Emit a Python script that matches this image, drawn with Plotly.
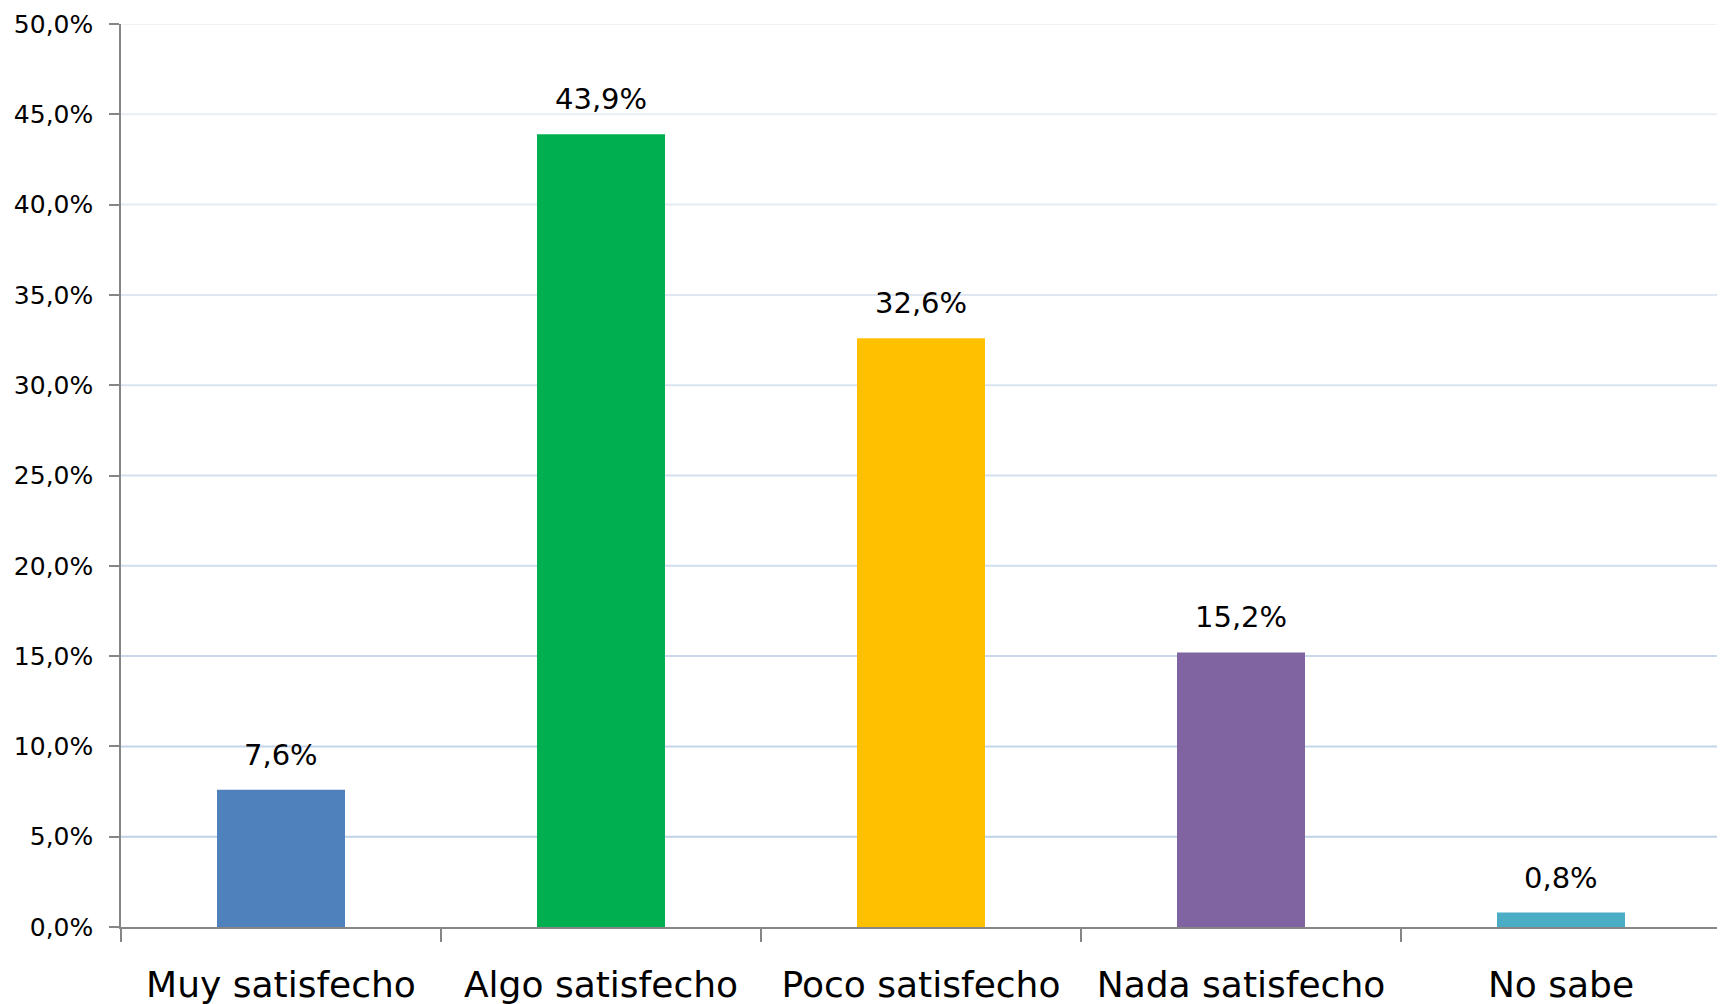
import plotly.graph_objects as go

categories = ["Muy satisfecho", "Algo satisfecho", "Poco satisfecho", "Nada satisfecho", "No sabe"]
values = [7.6, 43.9, 32.6, 15.2, 0.8]
colors = ["#4F81BD", "#00B050", "#FFC000", "#8064A2", "#4BACC6"]
y_ticks = [0, 5, 10, 15, 20, 25, 30, 35, 40, 45, 50]
y_tick_labels = [f"{v:.1f}".replace(".", ",") + "%" for v in y_ticks]

FONT = "DejaVu Sans"

fig = go.Figure()
fig.add_trace(go.Bar(
    x=categories, y=values, marker=dict(color=colors, line=dict(width=0)),
    hoverinfo="skip",
))

for c, v in zip(categories, values):
    fig.add_annotation(
        x=c, y=v, text=f"{v:.1f}".replace(".", ",") + "%",
        showarrow=False, yanchor="bottom", yshift=16,
        font=dict(family=FONT, size=29, color="#000000"),
    )

# gridlines fading from darker bluish (bottom) to pale (top)
def mix(c1, c2, t):
    return "#" + "".join(f"{round(a + (b - a) * t):02x}" for a, b in zip(c1, c2))

bottom_col = (0xb9, 0xcd, 0xe5)
top_col = (0xee, 0xf2, 0xf7)
for v in y_ticks[1:]:
    t = v / y_ticks[-1]
    fig.add_shape(type="line", xref="paper", yref="y", x0=0, x1=1, y0=v, y1=v,
                  line=dict(color=mix(bottom_col, top_col, t), width=2), layer="below")

fig.update_layout(
    width=1717, height=996,
    margin=dict(l=113, r=4, t=16, b=77, autoexpand=False),
    paper_bgcolor="white", plot_bgcolor="white",
    bargap=0.6, showlegend=False,
    font=dict(family=FONT, color="#000000"),
)
fig.update_yaxes(
    range=[0, 50], tickvals=y_ticks, ticktext=y_tick_labels,
    showgrid=False,
    showline=True, linecolor="#868686", linewidth=1.5,
    ticks="outside", ticklen=10, tickcolor="#868686", tickwidth=1.5,
    tickfont=dict(family=FONT, size=25, color="#000000"),
    zeroline=False, ticklabelstandoff=11,
)
fig.update_xaxes(
    showline=True, linecolor="#868686", linewidth=1.5,
    ticks="outside", ticklen=13, tickcolor="#868686", tickwidth=1.5,
    tickson="boundaries",
    tickfont=dict(family=FONT, size=36, color="#000000"),
    ticklabelstandoff=25,
)

fig.write_html("out.html")
